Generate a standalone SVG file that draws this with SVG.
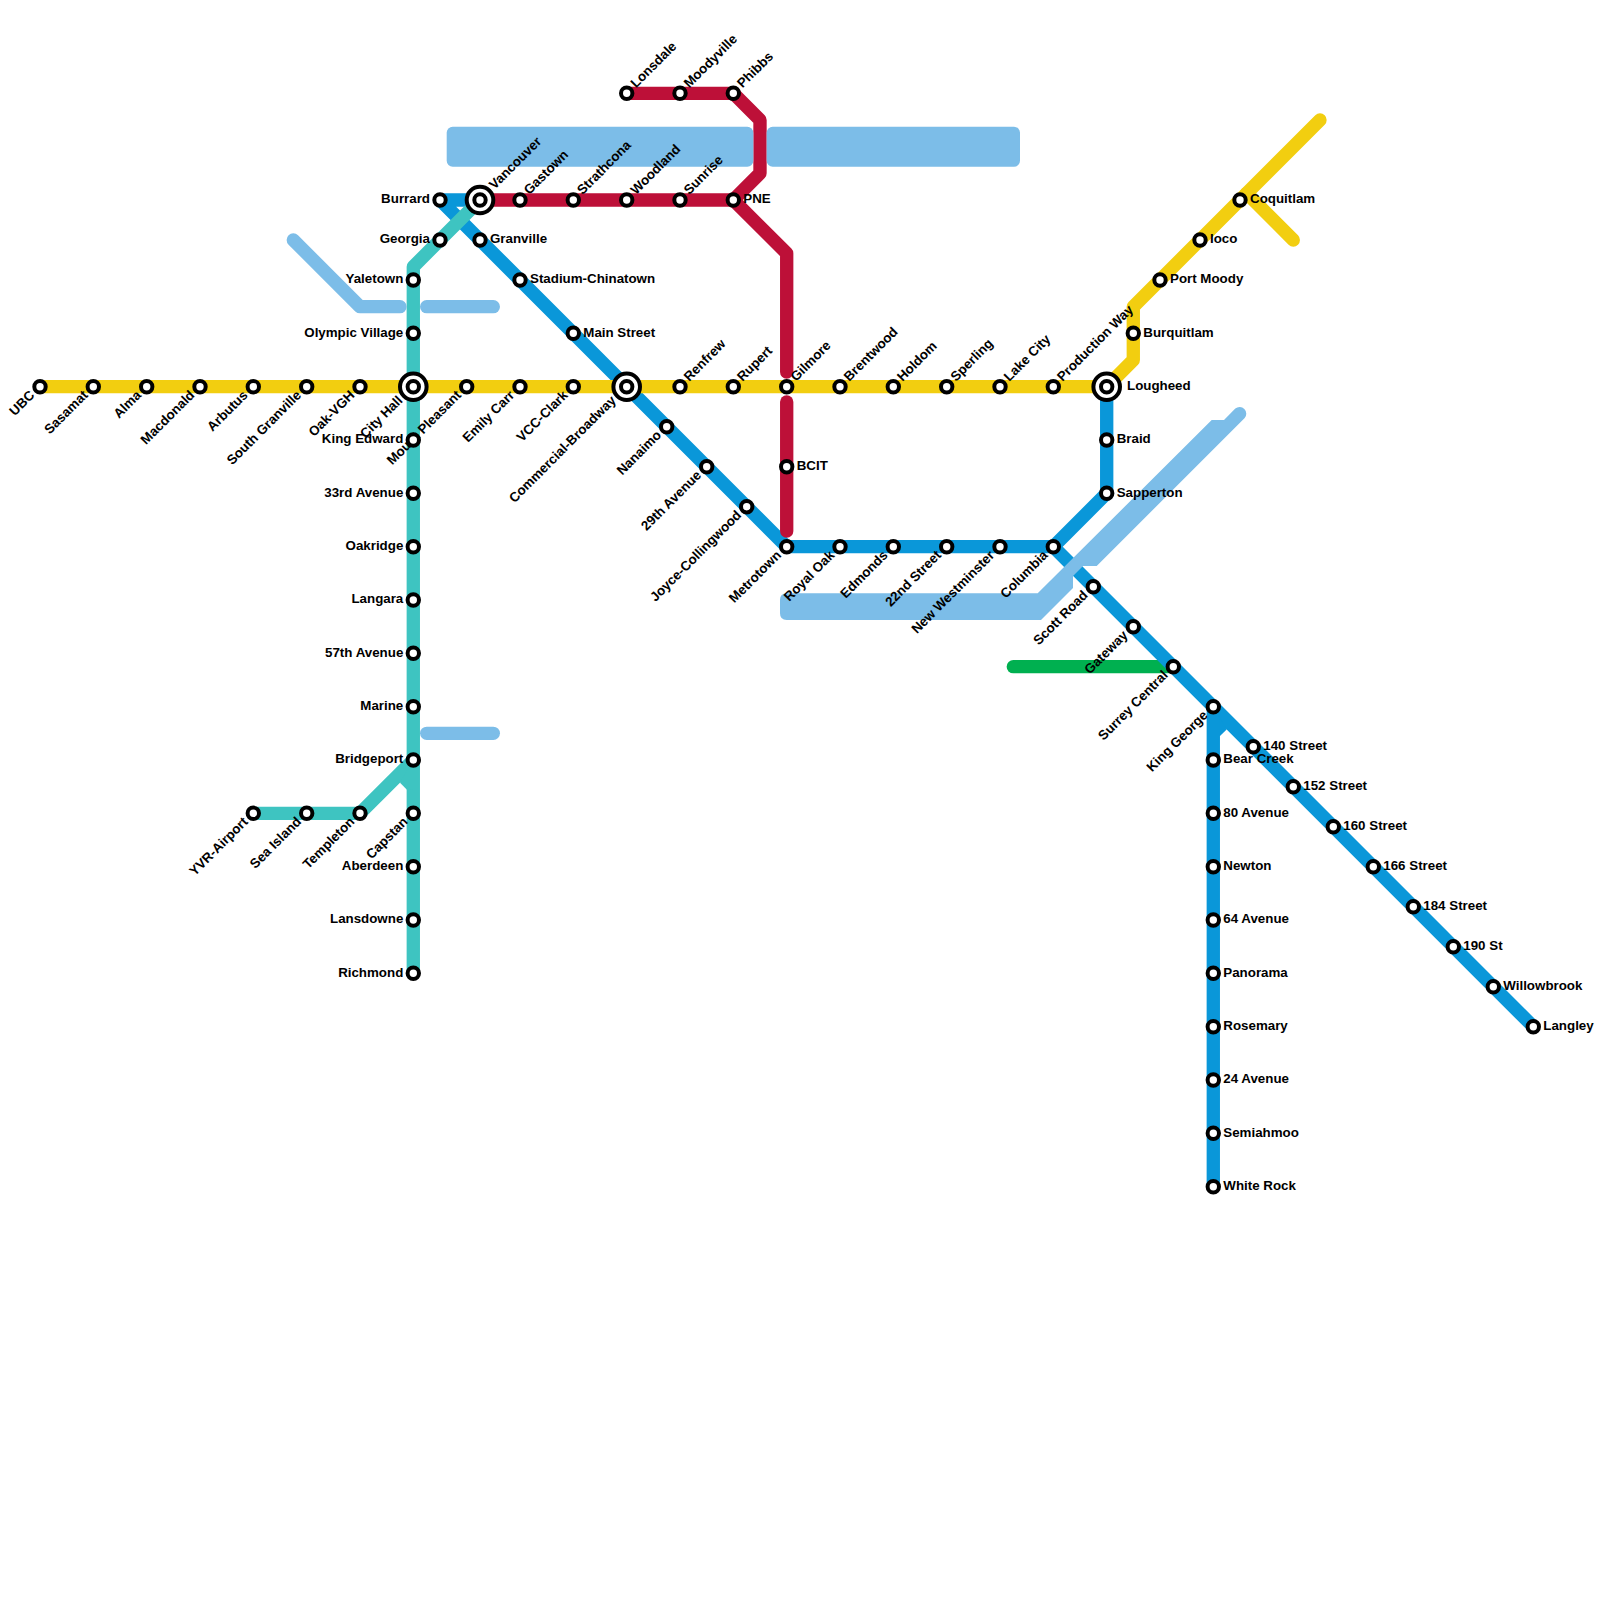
<svg xmlns="http://www.w3.org/2000/svg" width="1600" height="1600" viewBox="0 0 1600 1600">
<style>
.l{fill:none;stroke-width:13.33;stroke-linecap:round;stroke-linejoin:round}
.s{fill:#fff;stroke:#000;stroke-width:4}
text{font-family:"Liberation Sans",Arial,sans-serif;font-size:13.33px;font-weight:700;fill:#000}
.e{text-anchor:end}
</style>
<rect width="1600" height="1600" fill="#fff"/>
<g id="connectors">
<path class="l" stroke="#00b050" d="M1013.3 666.7H1173.3"/>
<g stroke="#0a97d9">
<path class="l" d="M480 200H440L786.7 546.7H1053.3L1106.7 493.3V386.7"/>
<path class="l" d="M1053.3 546.7L1533.3 1026.7"/>
<path class="l" d="M1213.3 706.7V1186.7"/>
<path fill="#0a97d9" stroke="none" d="M1213 706L1226.7 729.5L1220 736L1213 736Z"/>
</g>
<g stroke="#3ec4c1">
<path class="l" d="M480 200L413.3 266.7V973.3"/>
<path class="l" d="M253.3 813.3H360L413.3 760"/>
<path fill="#3ec4c1" stroke="none" d="M413 760L400 782.7L406.7 789.4L413 789Z"/>
</g>
<g stroke="#f2ce10">
<path class="l" d="M40 386.7H1106.7L1133.3 360V306.7L1320 120"/>
<path class="l" d="M1246.7 193.3L1293.3 240"/>
</g>
<g stroke="#bd1038">
<path class="l" d="M480 200H733.3L760 173.3V120L733.3 93.3H626.7"/>
<path class="l" d="M733.3 200L786.7 253.3V372"/>
<path class="l" d="M786.7 402V531"/>
</g>
</g>
<g id="water" fill="#7cbde8">
<rect x="446.7" y="126.7" width="306.6" height="40" rx="6"/>
<rect x="766.7" y="126.7" width="253.3" height="40" rx="6"/>
<path d="M786.7 593.3H1037.7L1211.7 420H1224L1235.3 408.6A6.67 6.67 0 0 1 1244.7 418L1096.7 566H1083L1073 576V588L1041 620H786.7Q780 620 780 613.3V600Q780 593.3 786.7 593.3Z"/>
<g class="l" stroke="#7cbde8" style="fill:none">
<path d="M293.3 240L360 306.7H400"/>
<path d="M426.7 306.7H493.3"/>
<path d="M426.7 733.3H493.3"/>
</g>
</g>
<g id="n-ubc"><circle class="s" cx="40" cy="386.7" r="5.7"/><text class="e" transform="translate(33 393.7) rotate(-45)" y="3.2">UBC</text></g>
<g id="n-sasamat"><circle class="s" cx="93.3" cy="386.7" r="5.7"/><text class="e" transform="translate(86.3 393.7) rotate(-45)" y="3.2">Sasamat</text></g>
<g id="n-alma"><circle class="s" cx="146.7" cy="386.7" r="5.7"/><text class="e" transform="translate(139.7 393.7) rotate(-45)" y="3.2">Alma</text></g>
<g id="n-macdonald"><circle class="s" cx="200" cy="386.7" r="5.7"/><text class="e" transform="translate(193 393.7) rotate(-45)" y="3.2">Macdonald</text></g>
<g id="n-arbutus"><circle class="s" cx="253.3" cy="386.7" r="5.7"/><text class="e" transform="translate(246.3 393.7) rotate(-45)" y="3.2">Arbutus</text></g>
<g id="n-south-granville"><circle class="s" cx="306.7" cy="386.7" r="5.7"/><text class="e" transform="translate(299.7 393.7) rotate(-45)" y="3.2">South Granville</text></g>
<g id="n-oak-vgh"><circle class="s" cx="360" cy="386.7" r="5.7"/><text class="e" transform="translate(353 393.7) rotate(-45)" y="3.2">Oak-VGH</text></g>
<g id="n-city-hall"><circle class="s" cx="413.3" cy="386.7" r="13.3"/><circle class="s" cx="413.3" cy="386.7" r="5.7"/><text class="e" transform="translate(401 399) rotate(-45)" y="3.2">City Hall</text></g>
<g id="n-mount-pleasant"><circle class="s" cx="466.7" cy="386.7" r="5.7"/><text class="e" transform="translate(459.7 393.7) rotate(-45)" y="3.2">Mount Pleasant</text></g>
<g id="n-emily-carr"><circle class="s" cx="520" cy="386.7" r="5.7"/><text class="e" transform="translate(513 393.7) rotate(-45)" y="3.2">Emily Carr</text></g>
<g id="n-vcc-clark"><circle class="s" cx="573.3" cy="386.7" r="5.7"/><text class="e" transform="translate(566.3 393.7) rotate(-45)" y="3.2">VCC-Clark</text></g>
<g id="n-commercial-broadway"><circle class="s" cx="626.7" cy="386.7" r="13.3"/><circle class="s" cx="626.7" cy="386.7" r="5.7"/><text class="e" transform="translate(614.4 399) rotate(-45)" y="3.2">Commercial-Broadway</text></g>
<g id="n-renfrew"><circle class="s" cx="680" cy="386.7" r="5.7"/><text transform="translate(687 379.7) rotate(-45)" y="3.2">Renfrew</text></g>
<g id="n-rupert"><circle class="s" cx="733.3" cy="386.7" r="5.7"/><text transform="translate(740.3 379.7) rotate(-45)" y="3.2">Rupert</text></g>
<g id="n-gilmore"><circle class="s" cx="786.7" cy="386.7" r="5.7"/><text transform="translate(793.7 379.7) rotate(-45)" y="3.2">Gilmore</text></g>
<g id="n-brentwood"><circle class="s" cx="840" cy="386.7" r="5.7"/><text transform="translate(847 379.7) rotate(-45)" y="3.2">Brentwood</text></g>
<g id="n-holdom"><circle class="s" cx="893.3" cy="386.7" r="5.7"/><text transform="translate(900.3 379.7) rotate(-45)" y="3.2">Holdom</text></g>
<g id="n-sperling"><circle class="s" cx="946.7" cy="386.7" r="5.7"/><text transform="translate(953.7 379.7) rotate(-45)" y="3.2">Sperling</text></g>
<g id="n-lake-city"><circle class="s" cx="1000" cy="386.7" r="5.7"/><text transform="translate(1007 379.7) rotate(-45)" y="3.2">Lake City</text></g>
<g id="n-production-way"><circle class="s" cx="1053.3" cy="386.7" r="5.7"/><text transform="translate(1060.3 379.7) rotate(-45)" y="3.2">Production Way</text></g>
<g id="n-lougheed"><circle class="s" cx="1106.7" cy="386.7" r="13.3"/><circle class="s" cx="1106.7" cy="386.7" r="5.7"/><text x="1127" y="389.7">Lougheed</text></g>
<g id="n-burquitlam"><circle class="s" cx="1133.3" cy="333.3" r="5.7"/><text x="1143.3" y="336.5">Burquitlam</text></g>
<g id="n-port-moody"><circle class="s" cx="1160" cy="280" r="5.7"/><text x="1170" y="283.2">Port Moody</text></g>
<g id="n-ioco"><circle class="s" cx="1200" cy="240" r="5.7"/><text x="1210" y="243.2">Ioco</text></g>
<g id="n-coquitlam"><circle class="s" cx="1240" cy="200" r="5.7"/><text x="1250" y="203.2">Coquitlam</text></g>
<g id="n-lonsdale"><circle class="s" cx="626.7" cy="93.3" r="5.7"/><text transform="translate(633.7 86.3) rotate(-45)" y="3.2">Lonsdale</text></g>
<g id="n-moodyville"><circle class="s" cx="680" cy="93.3" r="5.7"/><text transform="translate(687 86.3) rotate(-45)" y="3.2">Moodyville</text></g>
<g id="n-phibbs"><circle class="s" cx="733.3" cy="93.3" r="5.7"/><text transform="translate(740.3 86.3) rotate(-45)" y="3.2">Phibbs</text></g>
<g id="n-burrard"><circle class="s" cx="440" cy="200" r="5.7"/><text class="e" x="430" y="203.2">Burrard</text></g>
<g id="n-vancouver"><circle class="s" cx="480" cy="200" r="13.3"/><circle class="s" cx="480" cy="200" r="5.7"/><text transform="translate(492.3 187.7) rotate(-45)" y="3.2">Vancouver</text></g>
<g id="n-gastown"><circle class="s" cx="520" cy="200" r="5.7"/><text transform="translate(527 193) rotate(-45)" y="3.2">Gastown</text></g>
<g id="n-strathcona"><circle class="s" cx="573.3" cy="200" r="5.7"/><text transform="translate(580.3 193) rotate(-45)" y="3.2">Strathcona</text></g>
<g id="n-woodland"><circle class="s" cx="626.7" cy="200" r="5.7"/><text transform="translate(633.7 193) rotate(-45)" y="3.2">Woodland</text></g>
<g id="n-sunrise"><circle class="s" cx="680" cy="200" r="5.7"/><text transform="translate(687 193) rotate(-45)" y="3.2">Sunrise</text></g>
<g id="n-pne"><circle class="s" cx="733.3" cy="200" r="5.7"/><text x="743.3" y="203.2">PNE</text></g>
<g id="n-georgia"><circle class="s" cx="440" cy="240" r="5.7"/><text class="e" x="430" y="243.2">Georgia</text></g>
<g id="n-granville"><circle class="s" cx="480" cy="240" r="5.7"/><text x="490" y="243.2">Granville</text></g>
<g id="n-stadium"><circle class="s" cx="520" cy="280" r="5.7"/><text x="530" y="283.2">Stadium-Chinatown</text></g>
<g id="n-main-street"><circle class="s" cx="573.3" cy="333.3" r="5.7"/><text x="583.3" y="336.5">Main Street</text></g>
<g id="n-nanaimo"><circle class="s" cx="666.7" cy="426.7" r="5.7"/><text class="e" transform="translate(659.7 433.7) rotate(-45)" y="3.2">Nanaimo</text></g>
<g id="n-29th"><circle class="s" cx="706.7" cy="466.7" r="5.7"/><text class="e" transform="translate(699.7 473.7) rotate(-45)" y="3.2">29th Avenue</text></g>
<g id="n-joyce"><circle class="s" cx="746.7" cy="506.7" r="5.7"/><text class="e" transform="translate(739.7 513.7) rotate(-45)" y="3.2">Joyce-Collingwood</text></g>
<g id="n-metrotown"><circle class="s" cx="786.7" cy="546.7" r="5.7"/><text class="e" transform="translate(779.7 553.7) rotate(-45)" y="3.2">Metrotown</text></g>
<g id="n-royal-oak"><circle class="s" cx="840" cy="546.7" r="5.7"/><text class="e" transform="translate(833 553.7) rotate(-45)" y="3.2">Royal Oak</text></g>
<g id="n-edmonds"><circle class="s" cx="893.3" cy="546.7" r="5.7"/><text class="e" transform="translate(886.3 553.7) rotate(-45)" y="3.2">Edmonds</text></g>
<g id="n-22nd"><circle class="s" cx="946.7" cy="546.7" r="5.7"/><text class="e" transform="translate(939.7 553.7) rotate(-45)" y="3.2">22nd Street</text></g>
<g id="n-new-west"><circle class="s" cx="1000" cy="546.7" r="5.7"/><text class="e" transform="translate(993 553.7) rotate(-45)" y="3.2">New Westminster</text></g>
<g id="n-columbia"><circle class="s" cx="1053.3" cy="546.7" r="5.7"/><text class="e" transform="translate(1046.3 553.7) rotate(-45)" y="3.2">Columbia</text></g>
<g id="n-bcit"><circle class="s" cx="786.7" cy="466.7" r="5.7"/><text x="796.7" y="469.9">BCIT</text></g>
<g id="n-braid"><circle class="s" cx="1106.7" cy="440" r="5.7"/><text x="1116.7" y="443.2">Braid</text></g>
<g id="n-sapperton"><circle class="s" cx="1106.7" cy="493.3" r="5.7"/><text x="1116.7" y="496.5">Sapperton</text></g>
<g id="n-scott-road"><circle class="s" cx="1093.3" cy="586.7" r="5.7"/><text class="e" transform="translate(1086.3 593.7) rotate(-45)" y="3.2">Scott Road</text></g>
<g id="n-gateway"><circle class="s" cx="1133.3" cy="626.7" r="5.7"/><text class="e" transform="translate(1126.3 633.7) rotate(-45)" y="3.2">Gateway</text></g>
<g id="n-surrey-central"><circle class="s" cx="1173.3" cy="666.7" r="5.7"/><text class="e" transform="translate(1166.3 673.7) rotate(-45)" y="3.2">Surrey Central</text></g>
<g id="n-king-george"><circle class="s" cx="1213.3" cy="706.7" r="5.7"/><text class="e" transform="translate(1206.3 713.7) rotate(-45)" y="3.2">King George</text></g>
<g id="n-140"><circle class="s" cx="1253.3" cy="746.7" r="5.7"/><text x="1263.3" y="749.9">140 Street</text></g>
<g id="n-152"><circle class="s" cx="1293.3" cy="786.7" r="5.7"/><text x="1303.3" y="789.9">152 Street</text></g>
<g id="n-160"><circle class="s" cx="1333.3" cy="826.7" r="5.7"/><text x="1343.3" y="829.9">160 Street</text></g>
<g id="n-166"><circle class="s" cx="1373.3" cy="866.7" r="5.7"/><text x="1383.3" y="869.9">166 Street</text></g>
<g id="n-184"><circle class="s" cx="1413.3" cy="906.7" r="5.7"/><text x="1423.3" y="909.9">184 Street</text></g>
<g id="n-190"><circle class="s" cx="1453.3" cy="946.7" r="5.7"/><text x="1463.3" y="949.9">190 St</text></g>
<g id="n-willowbrook"><circle class="s" cx="1493.3" cy="986.7" r="5.7"/><text x="1503.3" y="989.9">Willowbrook</text></g>
<g id="n-langley"><circle class="s" cx="1533.3" cy="1026.7" r="5.7"/><text x="1543.3" y="1029.9">Langley</text></g>
<g id="n-bear-creek"><circle class="s" cx="1213.3" cy="760" r="5.7"/><text x="1223.3" y="763.2">Bear Creek</text></g>
<g id="n-80"><circle class="s" cx="1213.3" cy="813.3" r="5.7"/><text x="1223.3" y="816.5">80 Avenue</text></g>
<g id="n-newton"><circle class="s" cx="1213.3" cy="866.7" r="5.7"/><text x="1223.3" y="869.9">Newton</text></g>
<g id="n-64"><circle class="s" cx="1213.3" cy="920" r="5.7"/><text x="1223.3" y="923.2">64 Avenue</text></g>
<g id="n-panorama"><circle class="s" cx="1213.3" cy="973.3" r="5.7"/><text x="1223.3" y="976.5">Panorama</text></g>
<g id="n-rosemary"><circle class="s" cx="1213.3" cy="1026.7" r="5.7"/><text x="1223.3" y="1029.9">Rosemary</text></g>
<g id="n-24"><circle class="s" cx="1213.3" cy="1080" r="5.7"/><text x="1223.3" y="1083.2">24 Avenue</text></g>
<g id="n-semiahmoo"><circle class="s" cx="1213.3" cy="1133.3" r="5.7"/><text x="1223.3" y="1136.5">Semiahmoo</text></g>
<g id="n-white-rock"><circle class="s" cx="1213.3" cy="1186.7" r="5.7"/><text x="1223.3" y="1189.9">White Rock</text></g>
<g id="n-yaletown"><circle class="s" cx="413.3" cy="280" r="5.7"/><text class="e" x="403.3" y="283.2">Yaletown</text></g>
<g id="n-olympic-village"><circle class="s" cx="413.3" cy="333.3" r="5.7"/><text class="e" x="403.3" y="336.5">Olympic Village</text></g>
<g id="n-king-edward"><circle class="s" cx="413.3" cy="440" r="5.7"/><text class="e" x="403.3" y="443.2">King Edward</text></g>
<g id="n-33rd"><circle class="s" cx="413.3" cy="493.3" r="5.7"/><text class="e" x="403.3" y="496.5">33rd Avenue</text></g>
<g id="n-oakridge"><circle class="s" cx="413.3" cy="546.7" r="5.7"/><text class="e" x="403.3" y="549.9">Oakridge</text></g>
<g id="n-langara"><circle class="s" cx="413.3" cy="600" r="5.7"/><text class="e" x="403.3" y="603.2">Langara</text></g>
<g id="n-57th"><circle class="s" cx="413.3" cy="653.3" r="5.7"/><text class="e" x="403.3" y="656.5">57th Avenue</text></g>
<g id="n-marine"><circle class="s" cx="413.3" cy="706.7" r="5.7"/><text class="e" x="403.3" y="709.9">Marine</text></g>
<g id="n-bridgeport"><circle class="s" cx="413.3" cy="760" r="5.7"/><text class="e" x="403.3" y="763.2">Bridgeport</text></g>
<g id="n-capstan"><circle class="s" cx="413.3" cy="813.3" r="5.7"/><text class="e" transform="translate(406.3 820.3) rotate(-45)" y="3.2">Capstan</text></g>
<g id="n-aberdeen"><circle class="s" cx="413.3" cy="866.7" r="5.7"/><text class="e" x="403.3" y="869.9">Aberdeen</text></g>
<g id="n-lansdowne"><circle class="s" cx="413.3" cy="920" r="5.7"/><text class="e" x="403.3" y="923.2">Lansdowne</text></g>
<g id="n-richmond"><circle class="s" cx="413.3" cy="973.3" r="5.7"/><text class="e" x="403.3" y="976.5">Richmond</text></g>
<g id="n-yvr"><circle class="s" cx="253.3" cy="813.3" r="5.7"/><text class="e" transform="translate(246.3 820.3) rotate(-45)" y="3.2">YVR-Airport</text></g>
<g id="n-sea-island"><circle class="s" cx="306.7" cy="813.3" r="5.7"/><text class="e" transform="translate(299.7 820.3) rotate(-45)" y="3.2">Sea Island</text></g>
<g id="n-templeton"><circle class="s" cx="360" cy="813.3" r="5.7"/><text class="e" transform="translate(353 820.3) rotate(-45)" y="3.2">Templeton</text></g>
</svg>
